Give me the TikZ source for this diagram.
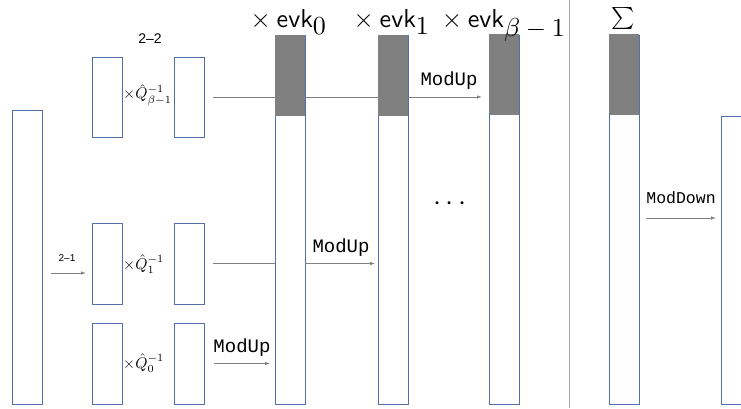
\documentclass[tikz,border=0pt]{standalone}
\usepackage{fontspec}
\usepackage{graphicx}
\usetikzlibrary{arrows.meta}
\newfontfamily\arialf{Liberation Sans}
\newfontfamily\courf{Liberation Mono}
\definecolor{boxc}{RGB}{84,110,170}
\definecolor{darkg}{RGB}{128,128,128}
\definecolor{linec}{RGB}{128,128,128}
\definecolor{sepc}{RGB}{165,165,165}
\newcommand{\evkhead}[1]{\scalebox{2.6}{$\times\mkern4mu\mbox{\sffamily evk}_{\textstyle #1}$}}
\newcommand{\qlabel}[1]{\scalebox{1.55}{$\times\hat{Q}^{-1}_{#1}$}}
\begin{document}
\begin{tikzpicture}[x=1pt,y=-1pt,
  box/.style={draw=boxc,line width=1pt,inner sep=0,outer sep=0,anchor=north west,minimum width=30pt},
  shadebox/.style={fill=darkg,inner sep=0,outer sep=0,anchor=north west,minimum width=30pt,minimum height=81pt},
  conn/.style={draw=linec,line width=0.8pt},
  arr/.style={conn,-{Latex[length=5pt,width=3.5pt]}},
  op/.style={font=\courf\fontsize{19}{19}\selectfont,inner sep=0},
  hdr/.style={inner sep=0,anchor=base},
  qlab/.style={inner sep=0,anchor=west}]
\useasboundingbox (0,0) rectangle (741,408);
\clip (0,0) rectangle (741,408);
% boxes
\node[box,minimum height=294pt] (L) at (12,110) {};
\node[box,minimum height=80pt] (a1) at (92,57) {};
\node[box,minimum height=81pt] (a2) at (92,223) {};
\node[box,minimum height=81pt] (a3) at (92,323) {};
\node[box,minimum height=80pt] (b1) at (174,57) {};
\node[box,minimum height=81pt] (b2) at (174,223) {};
\node[box,minimum height=81pt] (b3) at (174,323) {};
\node[box,minimum height=369pt] (c0) at (275,35) {};
\node[box,minimum height=369pt] (c1) at (378,35) {};
\node[box,minimum height=369pt] (cb) at (489,35) {};
\node[box,minimum height=369pt] (s) at (609,35) {};
\node[box,minimum width=50pt,minimum height=288pt] (f) at (721,116) {};
% connectors
\draw[arr] ([xshift=9pt]b1.east) -- ([xshift=-7pt]cb.west |- b1.east);
\draw[conn] ([xshift=9pt]b2.east) -- (c0.west |- b2.east);
\draw[arr] (c0.east |- b2.east) -- ([xshift=-3pt]c1.west |- b2.east);
\draw[arr] ([xshift=10pt]b3.east) -- ([xshift=-5pt]c0.west |- b3.east);
\coordinate (p21) at (51,273);
\draw[arr] (p21) -- ([xshift=-6pt]a2.west |- p21);
\coordinate (md) at (646,218);
\draw[arr] (md) -- ([xshift=-5pt]f.west |- md);
% gray tops
\node[shadebox] (g0) at (275,35) {};
\node[shadebox] (g1) at (378,35) {};
\node[shadebox] (gb) at (489,34) {};
\node[shadebox] (gs) at (609,34) {};
% separator
\coordinate (sept) at (569,0);
\coordinate (sepb) at (569,408);
\draw[draw=sepc,line width=1pt] (sept) -- (sepb);
% labels
\node[hdr] (h0) at (289,27) {\evkhead{0}};
\node[hdr] (h1) at (392,27) {\evkhead{1}};
\node[hdr] (hb) at (504,27) {\evkhead{\beta-1}};
\node[inner sep=0] (hs) at (623,18) {\scalebox{2.2}{$\sum$}};
\node[qlab] (q1) at (123,95) {\qlabel{\beta-1}};
\node[qlab] (q2) at (123,264) {\qlabel{1}};
\node[qlab] (q3) at (123,363) {\qlabel{0}};
\node[font=\arialf\fontsize{14}{14}\selectfont,inner sep=0] (t22) at (150,39) {2–2};
\node[font=\arialf\fontsize{10}{10}\selectfont,inner sep=0] (t21) at (67,258) {2–1};
\node[op] (m1) at (449,81) {ModUp};
\node[op] (m2) at (341,248) {ModUp};
\node[op] (m3) at (242,348) {ModUp};
\node[op,font=\courf\fontsize{16.5}{16.5}\selectfont] (m4) at (681,198) {ModDown};
\node[inner sep=0,anchor=base] (dots) at (450,210) {\scalebox{2.9}{$\cdots$}};
\end{tikzpicture}
\end{document}
